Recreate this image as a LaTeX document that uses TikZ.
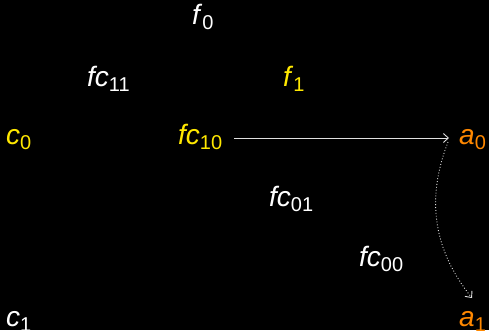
\documentclass[tikz,border=0pt]{standalone}
\usepackage{fontspec}
\setmainfont{Liberation Sans}
\usepackage{tikz}
\usetikzlibrary{arrows.meta}

\definecolor{lblyellow}{RGB}{255,232,0}
\definecolor{lblorange}{RGB}{255,136,0}
\newcommand{\lbl}[2]{\textit{#1}\raisebox{-5pt}{\fontsize{20}{20}\selectfont #2}}

\begin{document}
\begin{tikzpicture}[
  x=1pt, y=-1pt,
  font=\fontsize{28}{30}\selectfont,
  term/.style={inner sep=0pt, anchor=base west, text=white},
  hot/.style={term, text=lblyellow},
  act/.style={term, text=lblorange},
  arrow/.style={-{Straight Barb[length=5pt, width=9pt]}, line width=0.9pt, white!88!black},
  dottedarrow/.style={-{Straight Barb[length=5pt, width=9pt]}, line width=0.9pt, dotted, white!88!black}
]
\fill[black] (0,0) rectangle (489,330);
\useasboundingbox (0,0) rectangle (489,330);

\node[term] (f0) at (192,24) {\lbl{f}{0}};
\node[term] (fc11) at (87,86) {\lbl{fc}{11}};
\node[hot] (f1) at (283,86) {\lbl{f}{1}};
\node[hot] (c0) at (6,144) {\lbl{c}{0}};
\node[hot] (fc10) at (178,144) {\lbl{fc}{10}};
\node[act] (a0) at (459,144) {\lbl{a}{0}};
\node[term] (fc01) at (269,206) {\lbl{fc}{01}};
\node[term] (fc00) at (359,266) {\lbl{fc}{00}};
\node[term] (c1) at (6,326) {\lbl{c}{1}};
\node[act] (a1) at (459,326) {\lbl{a}{1}};

\draw[arrow] ([xshift=12pt,yshift=6pt]fc10.base east) -- ([xshift=-10pt,yshift=6pt]a0.base west);
\draw[dottedarrow] ([xshift=-11pt,yshift=2pt]a0.base west) to[bend right=30] ([xshift=13pt,yshift=28pt]a1.base west);
\end{tikzpicture}
\end{document}
